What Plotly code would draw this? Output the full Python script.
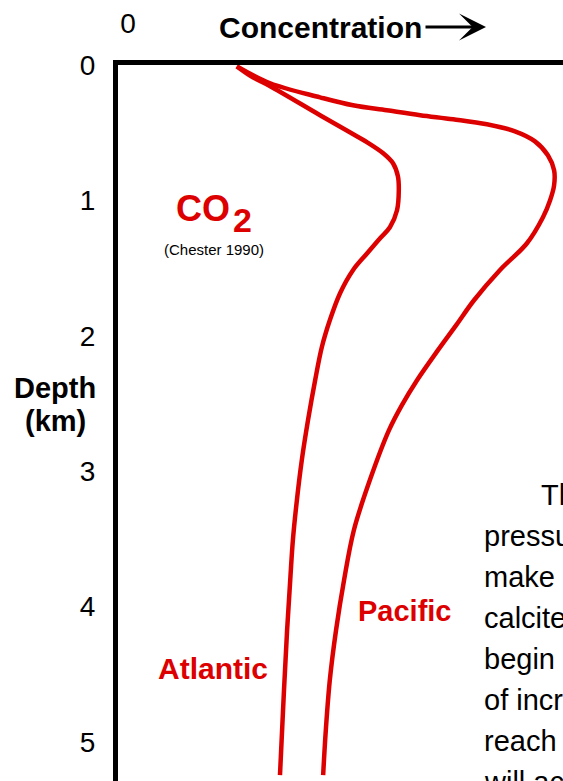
import plotly.graph_objects as go

# ---- data: concentration in arbitrary units, depth in km ----
atlantic_conc = [26.7, 30.3, 34.2, 45.4, 52.1, 56.0, 59.6, 61.8, 62.9, 63.1, 62.7, 61.1, 58.9,
                 56.0, 52.8, 49.9, 47.6, 45.8, 44.3, 42.7, 41.3, 40.2, 39.3, 38.7, 38.0, 37.3, 36.4]
atlantic_depth = [0.010, 0.091, 0.157, 0.371, 0.497, 0.571, 0.652, 0.726, 0.822, 0.925, 1.073, 1.199,
                  1.280, 1.391, 1.516, 1.686, 1.886, 2.085, 2.329, 2.624, 2.920, 3.215, 3.510, 3.806,
                  4.175, 4.618, 5.246]

pacific_conc = [26.7, 34.2, 45.4, 52.8, 60.4, 67.9, 75.3, 82.9, 89.2, 93.7, 96.6, 98.0, 98.0, 97.1,
                95.5, 91.9, 85.8, 80.0, 76.0, 71.9, 67.2, 63.8, 60.9, 56.6, 53.0, 50.8, 49.0, 47.6,
                46.7, 46.1]
pacific_depth = [0.010, 0.135, 0.239, 0.298, 0.335, 0.371, 0.401, 0.438, 0.490, 0.564, 0.667, 0.778,
                 0.888, 0.999, 1.125, 1.317, 1.516, 1.738, 1.922, 2.107, 2.329, 2.513, 2.698, 3.067,
                 3.437, 3.806, 4.175, 4.544, 4.914, 5.246]

depth_ticks = [0, 1, 2, 3, 4, 5]
conc_ticks = [0]

paragraph_lines = ["The", "pressure", "make", "calcite", "begin", "of incr", "reach", "will ac"]

# ---- layout constants ----
W, H = 563, 781
L, T = 118, 65
PW, PH = W - L, H - T
RED = "#dd0000"
FONT = "Liberation Sans, Arial, sans-serif"


def px(x):
    return (x - L) / PW


def py(y):
    return 1 - (y - T) / PH


fig = go.Figure()
fig.add_trace(go.Scatter(x=atlantic_conc, y=atlantic_depth, mode="lines",
                         line=dict(color=RED, width=4.5, shape="spline", smoothing=1.0),
                         name="Atlantic", hoverinfo="skip"))
fig.add_trace(go.Scatter(x=pacific_conc, y=pacific_depth, mode="lines",
                         line=dict(color=RED, width=4.5, shape="spline", smoothing=1.0),
                         name="Pacific", hoverinfo="skip"))

ann = []


def text(t, x, y, size, color="black", bold=False, xanchor="center"):
    ann.append(dict(text=("<b>%s</b>" % t) if bold else t, x=px(x), y=py(y),
                    xref="paper", yref="paper", xanchor=xanchor, yanchor="middle",
                    showarrow=False, font=dict(family=FONT, size=size, color=color)))


text("CO", 203, 208, 36, RED, True)
text("2", 242, 220, 34, RED, True)
text("(Chester 1990)", 214, 249, 15)
text("Pacific", 404.5, 611, 29, RED, True)
text("Atlantic", 212.5, 668, 30, RED, True)
text("Depth", 55, 388, 29, bold=True)
text("(km)", 55, 421, 29, bold=True)
text("Concentration", 320, 28, 30, bold=True)

for i, line in enumerate(paragraph_lines):
    x0 = 539 if i == 0 else 482
    text(line, x0, 495 + 41 * i, 29, xanchor="left")

# arrow after "Concentration"
ann.append(dict(x=px(486), y=py(27), xref="paper", yref="paper", ax=-62, ay=0,
                showarrow=True, arrowhead=3, arrowsize=1.5, arrowwidth=3, arrowcolor="black",
                text=""))

fig.update_layout(
    width=W, height=H,
    margin=dict(l=L, r=0, t=T, b=0, pad=0),
    paper_bgcolor="white", plot_bgcolor="white",
    showlegend=False,
    annotations=ann,
    xaxis=dict(side="top", range=[0, 100], showgrid=False, zeroline=False,
               showline=True, linecolor="black", linewidth=5,
               tickvals=conc_ticks, ticktext=[str(v) for v in conc_ticks],
               ticks="", tickfont=dict(family=FONT, size=28, color="black"),
               ticklabelstandoff=16, ticklabelshift=10),
    yaxis=dict(range=[5.29, 0], showgrid=False, zeroline=False,
               showline=True, linecolor="black", linewidth=5,
               tickvals=depth_ticks, ticktext=[str(v) for v in depth_ticks],
               ticks="", tickfont=dict(family=FONT, size=28, color="black"),
               ticklabelstandoff=12),
)

fig.write_html("out.html", config={"displayModeBar": False},
               post_script="document.body.style.margin='0';document.body.style.overflow='hidden';")
